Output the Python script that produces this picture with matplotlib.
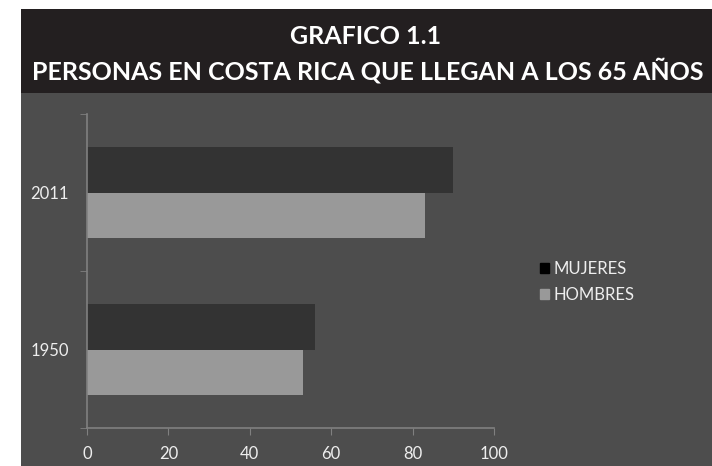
import matplotlib.pyplot as plt
from matplotlib.patches import Rectangle, Patch

years = ['1950', '2011']
mujeres = [56, 90]
hombres = [53, 83]
x_ticks = [0, 20, 40, 60, 80, 100]

plt.rcParams['font.family'] = ['Lato', 'DejaVu Sans']

fig = plt.figure(figsize=(7.12, 4.66), dpi=100, facecolor='white')

# background blocks: dark title band and grey panel
fig.patches.append(Rectangle((0.0295, 0.0), 0.9705, 0.8004, transform=fig.transFigure,
                             facecolor='#4d4d4d', edgecolor='none', zorder=-2))
fig.patches.append(Rectangle((0.0295, 0.8004), 0.9705, 0.1803, transform=fig.transFigure,
                             facecolor='#231f20', edgecolor='none', zorder=-2))

fig.text(0.514, 0.921, 'GRAFICO 1.1', ha='center', va='center', color='white',
         fontsize=18, fontweight='bold')
fig.text(0.517, 0.848, 'PERSONAS EN COSTA RICA QUE LLEGAN A LOS 65 AÑOS', ha='center',
         va='center', color='white', fontsize=18, fontweight='bold')

ax = fig.add_axes([0.1222, 0.0815, 0.5716, 0.6738])
ax.set_facecolor('none')

pos = list(range(len(years)))
h = 0.287
ax.barh([p + h / 2 for p in pos], mujeres, height=h, color='#333333')
ax.barh([p - h / 2 for p in pos], hombres, height=h, color='#999999')

ax.set_xlim(0, 100)
ax.set_ylim(-0.5, 1.5)
ax.set_xticks(x_ticks)
ax.set_yticks(pos)
ax.set_yticklabels(years)
ax.set_yticks([-0.5, 0.5, 1.5], minor=True)
ax.tick_params(axis='y', which='major', length=0, pad=13, labelsize=12, labelcolor='#eeeeee')
ax.tick_params(axis='y', which='minor', length=5, color='#808080')
ax.tick_params(axis='x', length=5, color='#808080', labelsize=12, labelcolor='#eeeeee', pad=8)
for s in ['top', 'right']:
    ax.spines[s].set_visible(False)
for s in ['left', 'bottom']:
    ax.spines[s].set_color('#808080')
    ax.spines[s].set_linewidth(1.2)

handles = [Patch(color='black', label='MUJERES'), Patch(color='#999999', label='HOMBRES')]
leg = fig.legend(handles=handles, loc='center left', bbox_to_anchor=(0.737, 0.395),
                 frameon=False, fontsize=12, handlelength=0.55, handleheight=0.55,
                 handletextpad=0.3, labelspacing=0.6)
for t in leg.get_texts():
    t.set_color('#eeeeee')

fig.savefig('out.png', dpi=100, facecolor='white')
